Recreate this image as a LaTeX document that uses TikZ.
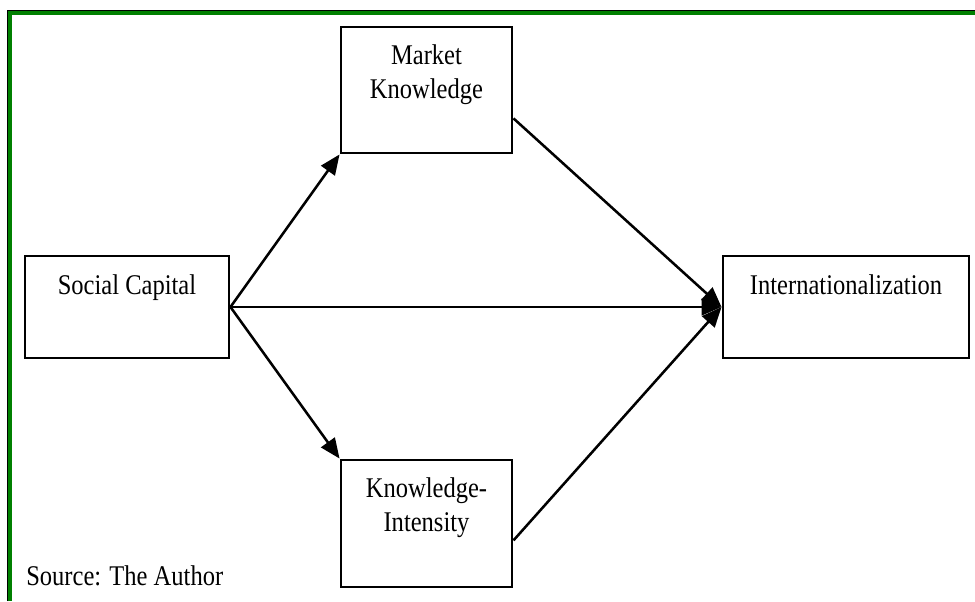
\documentclass[tikz,border=0pt]{standalone}
\usepackage{amsmath}
\usepackage{fontspec}
\setmainfont{Liberation Serif}[FakeStretch=0.86]
\usepackage{tikz}
\usetikzlibrary{arrows.meta,positioning,calc}
\definecolor{framegreen}{RGB}{0,128,0}
\tikzset{
  varbox/.style={draw, line width=2.2pt, inner sep=0pt},
  vartext/.style={inner sep=0pt, align=center, font=\fontsize{21.4pt}{25.5pt}\selectfont},
  link/.style={line width=1.9pt, -{Triangle[length=15pt,width=12.5pt]}},
}
\begin{document}
\begin{tikzpicture}[x=0.75pt,y=0.75pt,yscale=-1,xscale=1]
\useasboundingbox (0,0) rectangle (975,601);

%Frame
\draw [line width=1pt] (7.5,601) -- (7.5,10.5) -- (975,10.5);
\draw [framegreen, line width=3.2pt] (10,601) -- (10,13) -- (975,13);

%Shape: Rectangle [social]
\node [varbox, minimum width=153pt, minimum height=76.5pt] (social) at (127,307) {};
%Shape: Rectangle [market]
\node [varbox, minimum width=128.25pt, minimum height=94.5pt] (market) at (426.5,90) {};
%Shape: Rectangle [intensity]
\node [varbox, minimum width=128.25pt, minimum height=95.25pt] (intensity) at (426.5,523.5) {};
%Shape: Rectangle [intl]
\node [varbox, minimum width=184.5pt, minimum height=76.5pt] (intl) at (846,307) {};

% Text Node
\node [vartext, below=15pt of social.north] (socialtxt) {Social Capital};
% Text Node
\node [vartext, below=14.5pt of market.north] (markettxt) {Market\\Knowledge};
% Text Node
\node [vartext, below=14.5pt of intensity.north] (intensitytxt) {Knowledge-\\Intensity};
% Text Node
\node [vartext, below=15pt of intl.north] (intltxt) {Internationalization};
% Text Node
\node [vartext, anchor=base west] (source) at (26,585) {Source: The Author};

%Straight Lines
\draw [link] (social.east) -- (market.south west);
\draw [link] (social.east) -- (intensity.north west);
\draw [link] (social.east) -- (intl.west);
\draw [link] ($(market.north east)!0.72!(market.south east)$) -- (intl.west);
\draw [link] ($(intensity.north east)!0.63!(intensity.south east)$) -- (intl.west);

\end{tikzpicture}
\end{document}
